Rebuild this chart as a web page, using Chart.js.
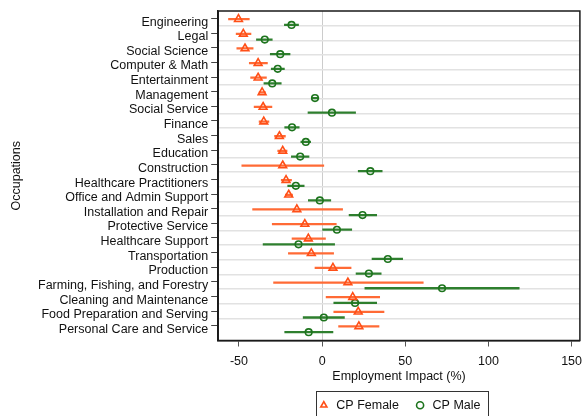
<!DOCTYPE html>
<html>
<head>
<meta charset="utf-8">
<script src="https://cdn.jsdelivr.net/npm/chart.js@4/dist/chart.umd.min.js"></script>
<style>
  html, body { margin: 0; padding: 0; background: #ffffff; }
  #wrap { width: 586px; height: 416px; }
</style>
</head>
<body>
<div id="wrap"><canvas id="c" width="586" height="416"></canvas></div>
<script>
const categories = ["Engineering","Legal","Social Science","Computer & Math","Entertainment","Management","Social Service","Finance","Sales","Education","Construction","Healthcare Practitioners","Office and Admin Support","Installation and Repair","Protective Service","Healthcare Support","Transportation","Production","Farming, Fishing, and Forestry","Cleaning and Maintenance","Food Preparation and Serving","Personal Care and Service"];

const femaleEst = [-50.3, -47.4, -46.4, -38.5, -38.5, -36.1, -35.5, -35.1, -25.7, -23.7, -23.7, -21.7, -20.1, -15.2, -10.4, -8.3, -6.5, 6.5, 15.5, 18.4, 21.7, 22.1];
const femaleLo  = [-56.3, -51.7, -51.3, -43.8, -43.0, -37.9, -40.9, -37.9, -28.6, -26.7, -48.3, -24.6, -22.1, -41.8, -30.0, -18.1, -20.3, -4.3, -29.2, 2.4, 7.0, 9.9];
const femaleHi  = [-43.8, -42.8, -41.5, -32.9, -33.5, -34.1, -30.2, -32.0, -22.1, -21.1, 1.0, -18.4, -17.8, 12.3, 8.5, 2.0, 6.9, 17.4, 60.8, 34.6, 37.2, 34.2];

const maleEst = [-18.4, -34.5, -25.2, -26.7, -30.0, -4.3, 5.9, -18.1, -9.8, -13.2, 29.0, -15.8, -1.4, 24.3, 8.9, -14.2, 39.5, 28.1, 72.1, 19.8, 1.0, -8.1];
const maleLo  = [-22.7, -39.5, -31.2, -30.6, -35.0, -6.5, -8.5, -22.5, -12.8, -18.5, 21.7, -20.7, -8.3, 16.2, 0.0, -35.5, 30.0, 20.4, 25.7, 7.0, -11.4, -22.5];
const maleHi  = [-14.2, -30.0, -19.3, -22.7, -24.6, -2.0, 20.1, -13.8, -6.9, -7.9, 36.1, -10.8, 5.2, 32.8, 17.8, 7.5, 48.4, 35.5, 118.5, 32.8, 13.4, 6.5];

const xTicks = [-50, 0, 50, 100, 150];
const seriesNames = ["CP Female", "CP Male"];

const FEMALE = '#ff4f17';
const FEMALE_BAR = '#ff6a35';
const MALE = '#1d741d';
const MALE_BAR = '#2e7f2e';
const OFF_F = -0.2, OFF_M = 0.19;
const FS = 12.5;

Chart.defaults.font.family = '"Liberation Sans", Arial, Helvetica, sans-serif';
Chart.defaults.font.size = FS;
Chart.defaults.color = '#111111';

const pts = (est, off) => est.map((v, i) => ({ x: v, y: i + off }));
const bars = (lo, hi, off) => lo.map((v, i) => ({ x: [v, hi[i]], y: i + off }));

// y ticks: integers carry the category labels, half-integers carry the grid lines
const isLabelTick = v => Math.abs(v - Math.round(v)) < 1e-6;

const framePlugin = {
  id: 'frame',
  afterDraw(chart) {
    const { ctx, chartArea: a } = chart;
    ctx.save();
    ctx.strokeStyle = '#1a1a1a';
    ctx.lineWidth = 1.5;
    ctx.strokeRect(a.left, a.top, a.right - a.left, a.bottom - a.top);
    const hb = chart.legend && chart.legend.legendHitBoxes;
    if (hb && hb.length) {
      const l = hb[0].left - 2;
      const last = hb[hb.length - 1];
      const r = last.left + last.width + 7;
      const t = hb[0].top - 8;
      ctx.lineWidth = 1;
      ctx.strokeStyle = '#333333';
      ctx.strokeRect(Math.round(l) + 0.5, Math.round(t) + 0.5, Math.round(r - l), 40);
    }
    ctx.restore();
  }
};

new Chart(document.getElementById('c'), {
  type: 'bar',
  data: {
    datasets: [
      { type: 'scatter', label: seriesNames[0], data: pts(femaleEst, OFF_F), xAxisID: 'x', yAxisID: 'y',
        pointStyle: 'triangle', pointRadius: 4.5, pointBorderWidth: 1.6,
        pointBorderColor: FEMALE, pointBackgroundColor: 'rgba(0,0,0,0)', borderColor: FEMALE, backgroundColor: 'rgba(0,0,0,0)' },
      { type: 'scatter', label: seriesNames[1], data: pts(maleEst, OFF_M), xAxisID: 'x', yAxisID: 'y',
        pointStyle: 'circle', pointRadius: 3.3, pointBorderWidth: 1.6,
        pointBorderColor: MALE, pointBackgroundColor: 'rgba(0,0,0,0)', borderColor: MALE, backgroundColor: 'rgba(0,0,0,0)' },
      { label: 'Female CI', data: bars(femaleLo, femaleHi, OFF_F), xAxisID: 'x', yAxisID: 'y',
        backgroundColor: FEMALE_BAR, borderWidth: 0, barThickness: 1.6, grouped: false },
      { label: 'Male CI', data: bars(maleLo, maleHi, OFF_M), xAxisID: 'x', yAxisID: 'y',
        backgroundColor: MALE_BAR, borderWidth: 0, barThickness: 1.6, grouped: false }
    ]
  },
  options: {
    indexAxis: 'y',
    responsive: false,
    animation: false,
    devicePixelRatio: 1,
    layout: { padding: { left: 4, right: 1, top: 11, bottom: -5.5 } },
    scales: {
      x: {
        type: 'linear', position: 'bottom', min: -62.5, max: 155,
        afterBuildTicks: s => { s.ticks = xTicks.map(v => ({ value: v })); },
        afterFit: s => { s.paddingRight = 0; if (s._margins) s._margins.right = 0; },
        grid: {
          color: c => (c.tick && c.tick.value === 0) ? '#cccccc' : 'rgba(0,0,0,0)',
          lineWidth: 1, tickColor: '#555555', tickLength: 6, drawTicks: true
        },
        border: { display: true, color: '#1a1a1a', width: 1.5 },
        ticks: { padding: 0, color: '#111111', font: { size: FS, lineHeight: 2.4 } },
        title: { display: true, text: 'Employment Impact (%)', color: '#111111', font: { size: FS }, padding: { top: -7.5, bottom: 0 } }
      },
      y: {
        type: 'linear', position: 'left', min: -0.5, max: categories.length - 0.5, reverse: true,
        afterBuildTicks: s => {
          const t = [];
          for (let i = 0; i < categories.length; i++) {
            t.push({ value: i });
            if (i < categories.length - 1) t.push({ value: i + 0.5 });
          }
          s.ticks = t;
        },
        grid: {
          drawOnChartArea: true, tickLength: 7,
          color: c => (c.tick && !isLabelTick(c.tick.value)) ? '#e2e2e2' : 'rgba(0,0,0,0)',
          lineWidth: c => (c.tick && !isLabelTick(c.tick.value)) ? 1.5 : 1,
          tickColor: c => (c.tick && isLabelTick(c.tick.value)) ? '#444444' : 'rgba(0,0,0,0)'
        },
        border: { display: true, color: '#1a1a1a', width: 1.5 },
        ticks: {
          padding: 3, autoSkip: false, color: '#111111', font: { size: FS },
          callback: v => isLabelTick(v) ? categories[Math.round(v)] : ''
        },
        title: { display: true, text: 'Occupations', color: '#111111', font: { size: FS }, padding: { top: 5, bottom: 11 } }
      }
    },
    plugins: {
      legend: {
        display: true, position: 'bottom', fullSize: false,
        labels: {
          usePointStyle: true, boxHeight: 5, padding: 15, color: '#111111',
          font: { size: FS },
          filter: item => item.datasetIndex < 2
        }
      },
      tooltip: { enabled: false }
    }
  },
  plugins: [framePlugin]
});
</script>
</body>
</html>
